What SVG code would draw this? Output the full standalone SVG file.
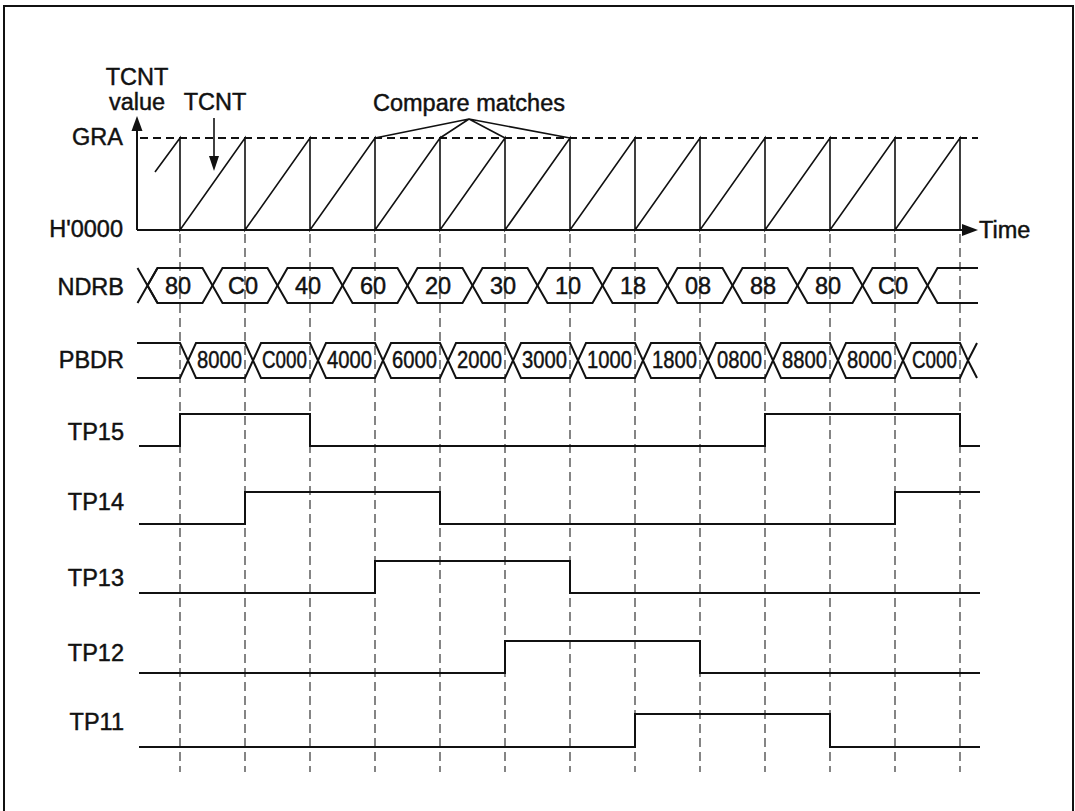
<svg xmlns="http://www.w3.org/2000/svg" width="1075" height="811" viewBox="0 0 1075 811">
<style>
text{font-family:"Liberation Sans",Arial,Helvetica,sans-serif;font-size:23.5px;fill:#111;stroke:#111;stroke-width:0.45}
.v{font-size:22.5px}
.w{fill:none;stroke:#111;stroke-width:2;stroke-linejoin:miter}
.t{fill:none;stroke:#111;stroke-width:1.6}
.d{fill:none;stroke:#222;stroke-width:1.1;stroke-dasharray:9 5}
.g{fill:none;stroke:#111;stroke-width:1.8;stroke-dasharray:8 5}
.m{text-anchor:middle}
.e{text-anchor:end}
.ah{fill:#111;stroke:none}
</style>
<rect width="1075" height="811" fill="#fff"/>
<path class="w" d="M4,811 V6 H1073 V811"/>

<g id="guides">
<path class="d" d="M180,234 V772 M245,234 V772 M310,234 V772 M375,234 V772 M440,234 V772 M505,234 V772 M570,234 V772 M635,234 V772 M700,234 V772 M765,234 V772 M830,234 V772 M895,234 V772 M960,234 V772"/>
</g>

<g id="tcnt">
<text x="137" y="85" class="m">TCNT</text>
<text x="137" y="110" class="m">value</text>
<text x="215" y="110" class="m">TCNT</text>
<text x="123" y="145" class="e">GRA</text>
<text x="123" y="237" class="e">H'0000</text>
<text x="979" y="238">Time</text>
<text x="469" y="111" class="m">Compare matches</text>
<path class="w" d="M137,230 V129 M137,230 H963"/>
<polygon class="ah" points="137,116 131.5,131 142.5,131"/>
<polygon class="ah" points="978,230 962,224 962,236"/>
<path class="g" d="M140,138 H978"/>
<path class="t" d="M155,172 L180,138 V230 L245,138 V230 L310,138 V230 L375,138 V230 L440,138 V230 L505,138 V230 L570,138 V230 L635,138 V230 L700,138 V230 L765,138 V230 L830,138 V230 L895,138 V230 L960,138 V230"/>
</g>

<g id="connectors">
<path class="t" d="M214,118 V158"/>
<polygon class="ah" points="214,171 209,156 219,156"/>
<path class="t" d="M375,138 L469,119 L440,138 M469,119 L505,138 M469,119 L570,138"/>
</g>

<g id="ndrb">
<text x="124" y="295" class="e">NDRB</text>
<path class="w" d="M137.5,268 L157.5,303 M137.5,303 L157.5,268 M927.5,285.5 L937.5,268 H978 M927.5,285.5 L937.5,303 H978"/>
<polygon class="w" points="147.5,285.5 157.5,268 202.5,268 212.5,285.5 202.5,303 157.5,303"/>
<polygon class="w" points="212.5,285.5 222.5,268 267.5,268 277.5,285.5 267.5,303 222.5,303"/>
<polygon class="w" points="277.5,285.5 287.5,268 332.5,268 342.5,285.5 332.5,303 287.5,303"/>
<polygon class="w" points="342.5,285.5 352.5,268 397.5,268 407.5,285.5 397.5,303 352.5,303"/>
<polygon class="w" points="407.5,285.5 417.5,268 462.5,268 472.5,285.5 462.5,303 417.5,303"/>
<polygon class="w" points="472.5,285.5 482.5,268 527.5,268 537.5,285.5 527.5,303 482.5,303"/>
<polygon class="w" points="537.5,285.5 547.5,268 592.5,268 602.5,285.5 592.5,303 547.5,303"/>
<polygon class="w" points="602.5,285.5 612.5,268 657.5,268 667.5,285.5 657.5,303 612.5,303"/>
<polygon class="w" points="667.5,285.5 677.5,268 722.5,268 732.5,285.5 722.5,303 677.5,303"/>
<polygon class="w" points="732.5,285.5 742.5,268 787.5,268 797.5,285.5 787.5,303 742.5,303"/>
<polygon class="w" points="797.5,285.5 807.5,268 852.5,268 862.5,285.5 852.5,303 807.5,303"/>
<polygon class="w" points="862.5,285.5 872.5,268 917.5,268 927.5,285.5 917.5,303 872.5,303"/>
<g class="v">
<text x="178" y="294" class="m">80</text>
<text x="243" y="294" class="m">C0</text>
<text x="308" y="294" class="m">40</text>
<text x="373" y="294" class="m">60</text>
<text x="438" y="294" class="m">20</text>
<text x="503" y="294" class="m">30</text>
<text x="568" y="294" class="m">10</text>
<text x="633" y="294" class="m">18</text>
<text x="698" y="294" class="m">08</text>
<text x="763" y="294" class="m">88</text>
<text x="828" y="294" class="m">80</text>
<text x="893" y="294" class="m">C0</text>
</g>
</g>

<g id="pbdr">
<text x="124" y="368" class="e">PBDR</text>
<path class="w" d="M137,343 H180 L188,360.5 L180,378 H137 M968,360.5 L977,343 M968,360.5 L977,378"/>
<polygon class="w" points="188,360.5 196,343 245,343 253,360.5 245,378 196,378"/>
<polygon class="w" points="253,360.5 261,343 310,343 318,360.5 310,378 261,378"/>
<polygon class="w" points="318,360.5 326,343 375,343 383,360.5 375,378 326,378"/>
<polygon class="w" points="383,360.5 391,343 440,343 448,360.5 440,378 391,378"/>
<polygon class="w" points="448,360.5 456,343 505,343 513,360.5 505,378 456,378"/>
<polygon class="w" points="513,360.5 521,343 570,343 578,360.5 570,378 521,378"/>
<polygon class="w" points="578,360.5 586,343 635,343 643,360.5 635,378 586,378"/>
<polygon class="w" points="643,360.5 651,343 700,343 708,360.5 700,378 651,378"/>
<polygon class="w" points="708,360.5 716,343 765,343 773,360.5 765,378 716,378"/>
<polygon class="w" points="773,360.5 781,343 830,343 838,360.5 830,378 781,378"/>
<polygon class="w" points="838,360.5 846,343 895,343 903,360.5 895,378 846,378"/>
<polygon class="w" points="903,360.5 911,343 960,343 968,360.5 960,378 911,378"/>
<g class="v">
<text x="219.5" y="368" class="m" textLength="45" lengthAdjust="spacingAndGlyphs">8000</text>
<text x="284.5" y="368" class="m" textLength="45" lengthAdjust="spacingAndGlyphs">C000</text>
<text x="349.5" y="368" class="m" textLength="45" lengthAdjust="spacingAndGlyphs">4000</text>
<text x="414.5" y="368" class="m" textLength="45" lengthAdjust="spacingAndGlyphs">6000</text>
<text x="479.5" y="368" class="m" textLength="45" lengthAdjust="spacingAndGlyphs">2000</text>
<text x="544.5" y="368" class="m" textLength="45" lengthAdjust="spacingAndGlyphs">3000</text>
<text x="609.5" y="368" class="m" textLength="45" lengthAdjust="spacingAndGlyphs">1000</text>
<text x="674.5" y="368" class="m" textLength="45" lengthAdjust="spacingAndGlyphs">1800</text>
<text x="739.5" y="368" class="m" textLength="45" lengthAdjust="spacingAndGlyphs">0800</text>
<text x="804.5" y="368" class="m" textLength="45" lengthAdjust="spacingAndGlyphs">8800</text>
<text x="869.5" y="368" class="m" textLength="45" lengthAdjust="spacingAndGlyphs">8000</text>
<text x="934.5" y="368" class="m" textLength="45" lengthAdjust="spacingAndGlyphs">C000</text>
</g>
</g>

<g id="tp15">
<text x="124" y="440" class="e">TP15</text>
<path class="w" d="M139,446 H180 V414 H310 V446 H765 V414 H960 V446 H980"/>
</g>
<g id="tp14">
<text x="124" y="510" class="e">TP14</text>
<path class="w" d="M139,524 H245 V492 H440 V524 H895 V492 H980"/>
</g>
<g id="tp13">
<text x="124" y="586" class="e">TP13</text>
<path class="w" d="M139,593 H375 V561 H570 V593 H980"/>
</g>
<g id="tp12">
<text x="124" y="661" class="e">TP12</text>
<path class="w" d="M139,673 H505 V641 H700 V673 H980"/>
</g>
<g id="tp11">
<text x="124" y="730" class="e">TP11</text>
<path class="w" d="M139,747 H635 V714 H830 V747 H980"/>
</g>
</svg>
